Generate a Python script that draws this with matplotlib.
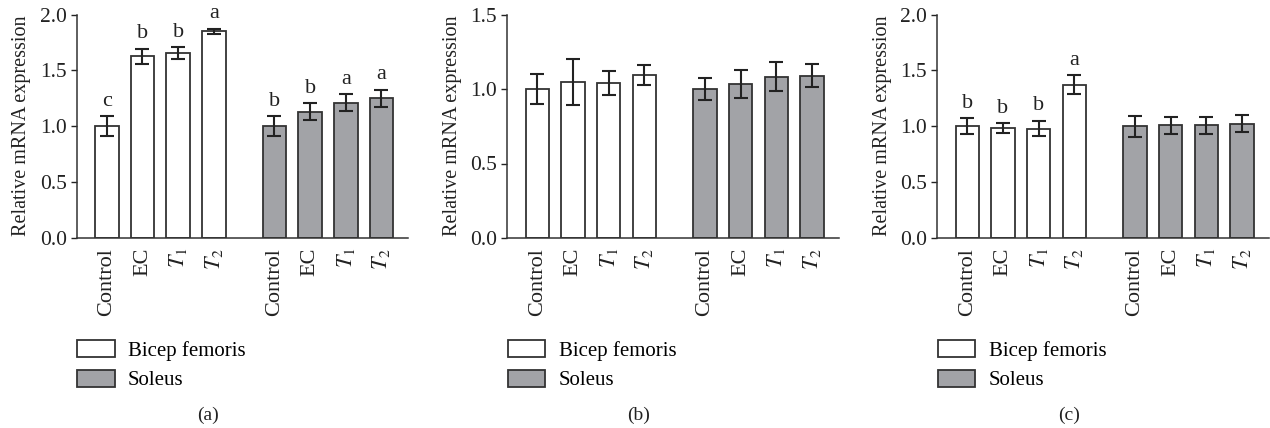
import matplotlib
matplotlib.use('Agg')
import matplotlib.pyplot as plt
from matplotlib.patches import Patch

plt.rcParams['font.family'] = ['Liberation Serif', 'DejaVu Serif']
plt.rcParams['mathtext.fontset'] = 'stix'

groups = ['Control', 'EC', '$T_1$', '$T_2$']
series = ['Bicep femoris', 'Soleus']
panels = ['(a)', '(b)', '(c)']
ymax = [2.0, 1.5, 2.0]

# panel a
a_bicep = [1.00, 1.627, 1.655, 1.85]
a_bicep_err = [0.09, 0.066, 0.05, 0.022]
a_soleus = [1.00, 1.131, 1.212, 1.25]
a_soleus_err = [0.09, 0.075, 0.076, 0.075]
a_bicep_letters = ['c', 'b', 'b', 'a']
a_soleus_letters = ['b', 'b', 'a', 'a']

# panel b
b_bicep = [1.00, 1.045, 1.039, 1.092]
b_bicep_err = [0.10, 0.155, 0.082, 0.067]
b_soleus = [1.00, 1.032, 1.083, 1.09]
b_soleus_err = [0.074, 0.093, 0.097, 0.076]

# panel c
c_bicep = [1.00, 0.985, 0.979, 1.373]
c_bicep_err = [0.073, 0.042, 0.069, 0.082]
c_soleus = [1.00, 1.009, 1.009, 1.024]
c_soleus_err = [0.096, 0.075, 0.075, 0.075]
c_bicep_letters = ['b', 'b', 'b', 'a']

data = [
    (a_bicep, a_bicep_err, a_soleus, a_soleus_err, a_bicep_letters, a_soleus_letters),
    (b_bicep, b_bicep_err, b_soleus, b_soleus_err, None, None),
    (c_bicep, c_bicep_err, c_soleus, c_soleus_err, c_bicep_letters, None),
]

W, H = 1270, 428
fig = plt.figure(figsize=(W / 100, H / 100), dpi=100)

edge = '#333333'
grey = '#a2a3a7'
lefts = [76.5, 507, 937]
x0, x1 = -0.85, 8.45
unit = 35.67
pos_b = [0, 1, 2, 3]
pos_s = [4.7, 5.7, 6.7, 7.7]

for i, (bv, be, sv, se, bl, sl) in enumerate(data):
    left = lefts[i]
    width = (x1 - x0) * unit
    top = 14.5
    bottom = 238
    ax = fig.add_axes([left / W, 1 - bottom / H, width / W, (bottom - top) / H])
    ax.bar(pos_b, bv, width=0.66, color='white', edgecolor=edge, linewidth=1.3, zorder=2)
    ax.bar(pos_s, sv, width=0.66, color=grey, edgecolor=edge, linewidth=1.3, zorder=2)
    ax.errorbar(pos_b, bv, yerr=be, fmt='none', ecolor='#222222', elinewidth=1.5,
                capsize=5, capthick=1.5, zorder=3)
    ax.errorbar(pos_s, sv, yerr=se, fmt='none', ecolor='#222222', elinewidth=1.5,
                capsize=5, capthick=1.5, zorder=3)
    for pos, vals, errs, letters in [(pos_b, bv, be, bl), (pos_s, sv, se, sl)]:
        if letters is None:
            continue
        for p, v, e, t in zip(pos, vals, errs, letters):
            ax.annotate(t, (p, v + e), xytext=(0, 4), textcoords='offset points',
                        ha='center', va='bottom', fontsize=16, color='#222222')
    ax.set_xlim(x0, x1)
    ax.set_ylim(0, ymax[i])
    ax.set_yticks([k * 0.5 for k in range(int(ymax[i] / 0.5) + 1)])
    ax.set_yticklabels([f'{k * 0.5:.1f}' for k in range(int(ymax[i] / 0.5) + 1)])
    ax.set_xticks(pos_b + pos_s)
    ax.set_xticklabels(groups + groups, rotation=90)
    ax.tick_params(axis='x', length=0, pad=7, labelsize=16, colors='#222222')
    ax.tick_params(axis='y', length=4, width=1, pad=3, labelsize=15.5, colors='#222222')
    for s in ['top', 'right']:
        ax.spines[s].set_visible(False)
    for s in ['left', 'bottom']:
        ax.spines[s].set_color('#333333')
        ax.spines[s].set_linewidth(1.1)
    ax.set_ylabel('Relative mRNA expression', fontsize=14.5, color='#222222', labelpad=6)

    handles = [Patch(facecolor='white', edgecolor=edge, linewidth=1.3),
               Patch(facecolor=grey, edgecolor=edge, linewidth=1.3)]
    fig.legend(handles, series, loc='upper left',
               bbox_to_anchor=((left + 0.5) / W, 1 - 340 / H), frameon=False,
               fontsize=15, handlelength=1.8, handleheight=0.85, handletextpad=0.65,
               labelspacing=0.45, borderpad=0, borderaxespad=0)
    fig.text((left + 132) / W, 1 - 415 / H, panels[i], ha='center', va='center',
             fontsize=14, color='#222222')

fig.savefig('out.png', dpi=100)
